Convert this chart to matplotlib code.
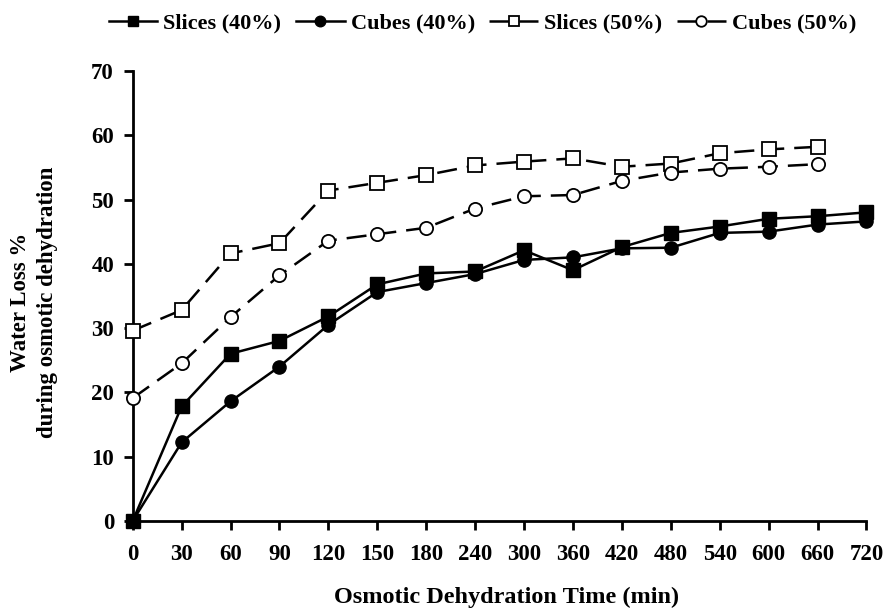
import numpy as np
import matplotlib.pyplot as plt

plt.rcParams['font.family'] = ['Liberation Serif', 'DejaVu Serif']
plt.rcParams['font.weight'] = 'bold'

times = ['0', '30', '60', '90', '120', '150', '180', '240', '300', '360',
         '420', '480', '540', '600', '660', '720']

slices_40 = [0, 17.8, 26.0, 28.0, 31.8, 36.8, 38.5, 38.8, 42.1, 39.0,
             42.6, 44.8, 45.8, 47.0, 47.4, 48.0]
cubes_40 = [0, 12.2, 18.6, 24.0, 30.5, 35.6, 37.0, 38.4, 40.6, 41.0,
            42.4, 42.5, 44.8, 45.0, 46.1, 46.6]
slices_50 = [29.6, 32.8, 41.6, 43.2, 51.4, 52.6, 53.8, 55.3, 55.9, 56.4,
             55.1, 55.6, 57.2, 57.8, 58.2]
cubes_50 = [19.1, 24.5, 31.7, 38.2, 43.6, 44.6, 45.6, 48.6, 50.5, 50.7,
            52.9, 54.2, 54.8, 55.1, 55.5]

fig = plt.figure(figsize=(8.85, 6.12), dpi=100)
ax = fig.add_axes([0.150, 0.149, 0.829, 0.735])

x = np.arange(len(times))
lw = 1.8
ms = 9.5
dash = (0, (8, 4))

ax.plot(x, slices_40, '-', color='black', lw=lw, marker='s', ms=ms,
        mfc='black', mec='black', label='Slices (40%)', clip_on=False, zorder=3)
ax.plot(x, cubes_40, '-', color='black', lw=lw, marker='o', ms=ms,
        mfc='black', mec='black', label='Cubes (40%)', clip_on=False, zorder=3)
ax.plot(x[:len(slices_50)], slices_50, linestyle=dash, color='black', lw=lw,
        marker='s', ms=ms, mfc='white', mec='black', mew=1.3,
        label='Slices (50%)', clip_on=False, zorder=3)
ax.plot(x[:len(cubes_50)], cubes_50, linestyle=dash, color='black', lw=lw,
        marker='o', ms=ms, mfc='white', mec='black', mew=1.3,
        label='Cubes (50%)', clip_on=False, zorder=3)

ax.set_xlim(0, 15)
ax.set_ylim(0, 70)
ax.set_xticks(x)
ax.set_xticklabels(times)
ax.set_yticks(np.arange(0, 71, 10))

for s in ['top', 'right']:
    ax.spines[s].set_visible(False)
for s in ['left', 'bottom']:
    ax.spines[s].set_linewidth(2)
ax.tick_params(axis='both', direction='out', length=6.5, width=2,
               labelsize=16.5)
ax.tick_params(axis='x', pad=10)
ax.tick_params(axis='y', pad=7)
for lab in ax.get_xticklabels() + ax.get_yticklabels():
    lab.set_fontweight('bold')

fig.text(0.572, 0.024, 'Osmotic Dehydration Time (min)', fontsize=17.5,
         fontweight='bold', ha='center', va='center')
fig.text(0.0384, 0.506, 'Water Loss %\nduring osmotic dehydration',
         fontsize=16.5, fontweight='bold', rotation=90, ha='center',
         va='center', multialignment='center', linespacing=1.35)

leg = fig.legend(loc='center', bbox_to_anchor=(0.545, 0.962), ncol=4,
                 frameon=False, handlelength=2.2, columnspacing=0.65,
                 handletextpad=0.27, markerscale=0.8,
                 prop={'weight': 'bold', 'size': 16})

fig.savefig('out.png', dpi=100)
